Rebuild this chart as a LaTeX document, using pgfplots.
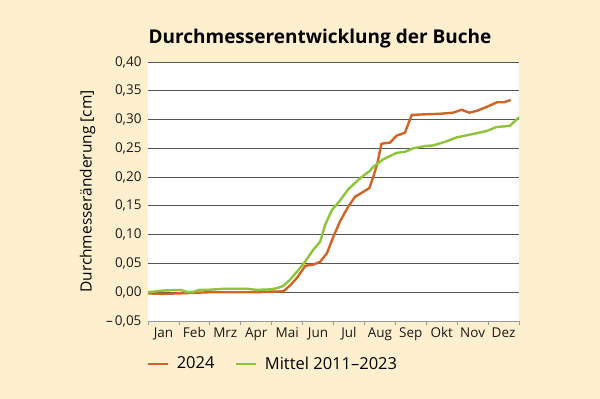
\documentclass[border=0pt]{standalone}
\usepackage{pgfplots}
\pgfplotsset{compat=1.18}
\usepackage{fontspec}
\setmainfont{Open Sans}
\definecolor{bg}{RGB}{254,240,207}
\definecolor{c24}{RGB}{207,100,38}
\definecolor{cmit}{RGB}{141,196,58}
\definecolor{gridc}{RGB}{85,85,85}
\begin{document}
\begin{tikzpicture}[x=1pt,y=1pt]
\fill[bg] (0,0) rectangle (600,399);
\useasboundingbox (0,0) rectangle (600,399);
\begin{axis}[
  at={(148pt,78pt)}, anchor=south west,
  scale only axis, width=371pt, height=259pt,
  xmin=0, xmax=12, ymin=-0.05, ymax=0.40,
  axis background/.style={fill=white},
  axis x line*=bottom, axis y line*=left,
  y axis line style={draw=none},
  x axis line style={draw=gray!80, line width=0.8pt},
  xtick={0,...,12},
  x tick label as interval,
  xticklabels={Jan,Feb,Mrz,Apr,Mai,Jun,Jul,Aug,Sep,Okt,Nov,Dez},
  x tick style={draw=gray!80, line width=0.8pt},
  tick align=outside, major tick length=4pt,
  ytick={-0.05,0,0.05,0.10,0.15,0.20,0.25,0.30,0.35,0.40},
  yticklabels={{–\,0,05},{0,00},{0,05},{0,10},{0,15},{0,20},{0,25},{0,30},{0,35},{0,40}},
  y tick style={draw=none},
  ymajorgrids, grid style={draw=gridc, line width=0.8pt},
  tick label style={font=\fontsize{13.5}{16}\selectfont, text=black!90},
  yticklabel style={xshift=1pt},
  xticklabel style={yshift=1pt},
  ylabel={Durchmesseränderung [cm]},
  ylabel style={at={(rel axis cs:0,0.5)}, anchor=south, yshift=49pt, font=\fontsize{15.5}{18}\selectfont},
  legend style={at={(rel axis cs:-0.013,-0.165)}, anchor=west, draw=none, fill=none,
    legend columns=2, font=\fontsize{16.5}{19}\selectfont,
    /tikz/every even column/.append style={column sep=18pt}},
  legend image code/.code={\draw[#1] (0pt,0pt) -- (20pt,0pt); \path (26pt,0pt);},
  clip=false,
]
\addplot[c24, line width=2.4pt, line join=round] coordinates {
(0,-0.002) (0.5,-0.003) (1.0,-0.002) (1.5,-0.001) (2,0) (3,0) (3.5,0.000) (4.0,0.001) (4.38,0.0015)
(4.6,0.012) (4.82,0.025) (5.09,0.046) (5.35,0.048) (5.57,0.053) (5.79,0.068) (6.0,0.097)
(6.21,0.123) (6.48,0.149) (6.70,0.166) (6.92,0.173) (7.16,0.181) (7.29,0.201) (7.42,0.224)
(7.55,0.258) (7.83,0.260) (8.04,0.272) (8.31,0.277) (8.53,0.308) (8.91,0.309) (9.44,0.310)
(9.87,0.312) (10.14,0.317) (10.39,0.312) (10.63,0.315) (11.0,0.323) (11.29,0.330) (11.51,0.330) (11.73,0.334)
};
\addlegendentry{2024}
\addplot[cmit, line width=2.4pt, line join=round] coordinates {
(0,0.000) (0.52,0.003) (1.05,0.004) (1.22,0.001) (1.43,0.000) (1.65,0.004) (1.90,0.004) (2.45,0.006)
(3.2,0.006) (3.53,0.004) (3.96,0.005) (4.17,0.007) (4.38,0.011) (4.60,0.022) (4.87,0.039) (5.08,0.053)
(5.35,0.074) (5.57,0.088) (5.73,0.117) (5.95,0.143) (6.16,0.156) (6.48,0.179) (6.86,0.198) (7.18,0.211)
(7.29,0.218) (7.61,0.231) (8.04,0.242) (8.31,0.244) (8.58,0.250) (8.96,0.254) (9.22,0.255) (9.65,0.262)
(9.98,0.269) (10.52,0.275) (10.95,0.280) (11.27,0.287) (11.70,0.289) (12.0,0.304)
};
\addlegendentry{Mittel 2011–2023}
\end{axis}
\node[font=\bfseries\fontsize{19}{23}\selectfont] at (320,360) {Durchmesserentwicklung der Buche};
\end{tikzpicture}
\end{document}
